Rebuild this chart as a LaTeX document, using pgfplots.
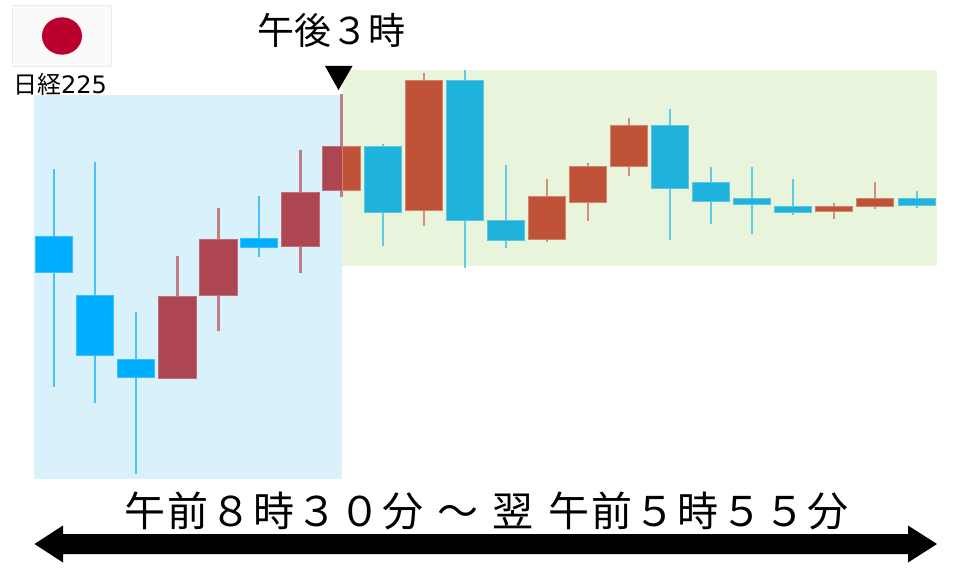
\documentclass[border=0pt]{standalone}
\usepackage{fontspec}
\usepackage{pgfplots}
\pgfplotsset{compat=1.18}
\newfontfamily\cjk{Noto Sans CJK JP}
\newfontfamily\cjkwide[LetterSpace=4.9]{Noto Sans CJK JP}
\newfontfamily\dv{DejaVu Sans}

\definecolor{bgblue}{HTML}{D8F1FB}
\definecolor{bggreen}{HTML}{E8F4DB}
\definecolor{flagred}{HTML}{BC002D}
% candle colours: a = on blue panel, b = on green panel
\definecolor{upa}{HTML}{AD4650}
\definecolor{upaedge}{HTML}{BD6E77}
\definecolor{upawick}{HTML}{C27C86}
\definecolor{upb}{HTML}{C05337}
\definecolor{upbedge}{HTML}{D08570}
\definecolor{upbwick}{HTML}{D2917C}
\definecolor{dna}{HTML}{00AEFF}
\definecolor{dnaedge}{HTML}{3CBEFF}
\definecolor{dnawick}{HTML}{48C2FF}
\definecolor{dnb}{HTML}{1FB2DC}
\definecolor{dnbedge}{HTML}{5CC6E2}
\definecolor{dnbwick}{HTML}{62CAE2}

% \candle{colour}{x}{high}{body top}{body bottom}{low}
\newcommand{\candle}[6]{%
  \pgfmathsetmacro{\xl}{#2-18.8}%
  \pgfmathsetmacro{\xr}{#2+18.8}%
  \addplot[#1wick, line width=2.1pt] coordinates {(#2,#3) (#2,#6)};
  \addplot[draw=#1edge, fill=#1, line width=0.8pt] coordinates {(\xl,#4) (\xr,#4) (\xr,#5) (\xl,#5)} --cycle;
}

\begin{document}
\begin{tikzpicture}
\begin{axis}[
  scale only axis, width=960pt, height=567pt,
  xmin=0, xmax=960, ymin=0, ymax=567,
  y dir=reverse, hide axis, clip=false,
]
\path (axis cs:0,0) rectangle (axis cs:960,567);
% panels
\addplot[fill=bggreen, draw=none] coordinates {(342,70) (937,70) (937,266) (342,266)} --cycle;
\addplot[fill=bgblue, draw=none] coordinates {(34,95) (342,95) (342,479) (34,479)} --cycle;

% flag
\addplot[fill=black!2, draw=black!8, line width=0.7pt] coordinates {(12.5,5.5) (111.5,5.5) (111.5,66.5) (12.5,66.5)} --cycle;

\candle{dna}{54}{169}{236}{272}{387}
\candle{dna}{95}{162}{295}{355}{403}
\candle{dna}{136}{312}{359}{377}{474}
\candle{upa}{177.5}{256}{296}{378}{379}
\candle{upa}{218.5}{208}{239}{295}{331}
\candle{dna}{259}{196}{238}{247}{257}
\candle{upa}{300.5}{150}{192}{246}{273}
% this one sits across the panel border
\addplot[upawick, line width=2.1pt] coordinates {(341.5,94) (341.5,197)};
\addplot[draw=upaedge, fill=upa, line width=0.8pt] coordinates {(322.7,146) (342,146) (342,190) (322.7,190)} --cycle;
\addplot[draw=upbedge, fill=upb, line width=0.8pt] coordinates {(342,146) (360.3,146) (360.3,190) (342,190)} --cycle;
\candle{dnb}{382.7}{144}{146}{212}{246}
\candle{upb}{423.7}{73}{80}{210}{226}
\candle{dnb}{465}{70}{80}{220}{268}
\candle{dnb}{506}{165}{220}{240}{248}
\candle{upb}{547}{179}{196}{239}{242}
\candle{upb}{588}{163}{166}{202}{221}
\candle{upb}{629}{118}{125}{166}{176}
\candle{dnb}{670}{109}{125}{188}{240}
\candle{dnb}{711}{167}{182}{201}{224}
\candle{dnb}{752}{167}{198}{204}{234}
\candle{dnb}{793}{179}{206}{212}{215}
\candle{upb}{834}{203}{206.5}{211}{219}
\candle{upb}{875}{182}{198}{206}{209}
\candle{dnb}{917}{191}{198}{205}{208}

% marker above the 15:00 candle
\addplot[fill=black, draw=none] coordinates {(325,66) (352.5,66) (338.5,90)} --cycle;
% double arrow
\addplot[fill=black, draw=none] coordinates {(34.5,544) (63,525.5) (63,534) (908,534) (908,525.5) (937,544) (908,562.5) (908,554) (63,554) (63,562.5)} --cycle;

\fill[flagred] (axis cs:62,36) ellipse [x radius=20pt, y radius=18.7pt];
\node[anchor=center, inner sep=0pt, font=\fontsize{24}{24}\selectfont] at (axis cs:60,84) {\cjk 日経\dv 225};
\node[anchor=center, inner sep=0pt, font=\fontsize{37}{37}\selectfont] at (axis cs:331.5,30) {\cjk 午後３時};
\node[anchor=center, inner sep=0pt, font=\fontsize{41}{41}\selectfont] at (axis cs:486.5,511) {\cjkwide 午前８時３０分\hspace{13pt}～\hspace{15pt}翌\hspace{15pt}午前５時５５分};
\end{axis}
\end{tikzpicture}
\end{document}
